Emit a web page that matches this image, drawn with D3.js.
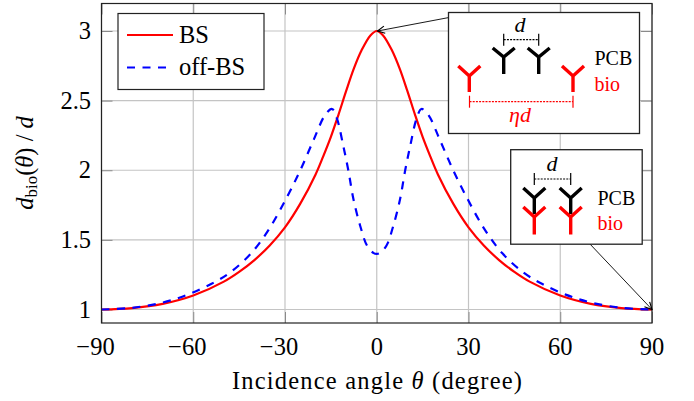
<!DOCTYPE html>
<html><head><meta charset="utf-8">
<script src="https://cdn.jsdelivr.net/npm/d3@7"></script>
<style>html,body{margin:0;padding:0;background:#fff}text{font-family:"Liberation Serif",serif;fill:#000}</style>
</head><body><svg id="c" width="694" height="401"></svg>
<script>
const xTicks=[-90,-60,-30,0,30,60,90];
const yTicks=[1,1.5,2,2.5,3];
const yTickLabels=["1","1.5","2","2.5","3"];
const bsTheta=[-90,-80,-70,-60,-50,-45,-40,-35,-30,-25,-20,-17.5,-15,-12.5,-10,-7.5,-5,-2,0,2,5,7.5,10,12.5,15,17.5,20,25,30,35,40,45,50,60,70,80,90];
const bsValue=[1,1.01,1.04,1.1,1.2,1.27,1.355,1.46,1.59,1.76,1.97,2.1,2.24,2.4,2.57,2.73,2.86,2.97,3,2.97,2.86,2.73,2.57,2.4,2.24,2.1,1.97,1.76,1.59,1.46,1.355,1.27,1.2,1.1,1.04,1.01,1];
const offTheta=[-90,-80,-70,-62,-54,-48,-41,-35,-29.3,-25,-20.6,-16.8,-14.6,-13,-10.9,-9.3,-7.6,-5.4,-3.2,-1,0,1,3.2,5.4,7.6,9.3,10.9,13,14.6,16.8,20.6,25,29.3,35,41,48,54,62,70,80,90];
const offValue=[1,1.012,1.05,1.105,1.185,1.265,1.405,1.585,1.81,2,2.22,2.4,2.44,2.37,2.17,2,1.79,1.6,1.46,1.405,1.4,1.405,1.46,1.6,1.79,2,2.17,2.37,2.44,2.4,2.22,2,1.81,1.585,1.405,1.265,1.185,1.105,1.05,1.012,1];
const legendLabels=["BS","off-BS"];

const L=101.5,R=652,T=3.5,B=323;
const x=d3.scaleLinear().domain([-90,90]).range([L,R]);
const y=d3.scaleLinear().domain([1,3]).range([309.5,31]);
const svg=d3.select("#c");
const font=24.5, tickLen=11;

const grid=svg.append("g").attr("stroke","#c4c4c4").attr("stroke-width",1.2);
xTicks.forEach(t=>grid.append("line").attr("x1",x(t)).attr("x2",x(t)).attr("y1",T).attr("y2",B));
yTicks.forEach(t=>grid.append("line").attr("y1",y(t)).attr("y2",y(t)).attr("x1",L).attr("x2",R));

function ticks(axis,tx){
  const g=svg.append("g").attr("transform",tx).call(axis);
  g.select(".domain").remove();
  g.selectAll("line").attr("stroke","#8a8a8a").attr("stroke-width",1);
  g.selectAll("text").remove();
}
ticks(d3.axisTop(x).tickValues(xTicks).tickSize(tickLen),`translate(0,${B})`);
ticks(d3.axisBottom(x).tickValues(xTicks).tickSize(tickLen),`translate(0,${T})`);
ticks(d3.axisRight(y).tickValues(yTicks).tickSize(tickLen),`translate(${L},0)`);
ticks(d3.axisLeft(y).tickValues(yTicks).tickSize(tickLen),`translate(${R},0)`);

const line=(xs,ys)=>d3.line().x((d,i)=>x(xs[i])).y((d,i)=>y(ys[i])).curve(d3.curveCatmullRom.alpha(0.5))(xs);
svg.append("path").attr("d",line(bsTheta,bsValue)).attr("fill","none").attr("stroke","#f00").attr("stroke-width",2.2);
svg.append("path").attr("d",line(offTheta,offValue)).attr("fill","none").attr("stroke","#00f").attr("stroke-width",2.2).attr("stroke-dasharray","8 7.5");

svg.append("rect").attr("x",L).attr("y",T).attr("width",R-L).attr("height",B-T).attr("fill","none").attr("stroke","#222").attr("stroke-width",1.2);

xTicks.forEach(t=>svg.append("text").attr("x",t<0?x(t)-6:x(t)).attr("y",355).attr("text-anchor","middle").attr("font-size",font).text(t<0?"\u2212"+(-t):t));
yTicks.forEach((t,i)=>svg.append("text").attr("x",91).attr("y",y(t)+8).attr("text-anchor","end").attr("font-size",font).text(yTickLabels[i]));

svg.append("text").attr("x",377).attr("y",389).attr("text-anchor","middle").attr("font-size",font).attr("textLength",290).attr("lengthAdjust","spacing")
  .html('Incidence angle <tspan font-style="italic">θ</tspan> (degree)');
const yl=svg.append("text").attr("transform","translate(33,163) rotate(-90)").attr("text-anchor","middle").attr("font-size",font);
yl.html('<tspan font-style="italic">d</tspan><tspan font-size="17" dy="4">bio</tspan><tspan dy="-4">(</tspan><tspan font-style="italic">θ</tspan><tspan>) / </tspan><tspan font-style="italic">d</tspan>');

svg.append("rect").attr("x",118).attr("y",13.5).attr("width",146).attr("height",76).attr("fill","#fff").attr("stroke","#222").attr("stroke-width",1.2);
svg.append("line").attr("x1",127).attr("x2",173).attr("y1",35).attr("y2",35).attr("stroke","#f00").attr("stroke-width",2.2);
svg.append("line").attr("x1",127).attr("x2",173).attr("y1",67.5).attr("y2",67.5).attr("stroke","#00f").attr("stroke-width",2.2).attr("stroke-dasharray","8 7.5");
legendLabels.forEach((s,i)=>svg.append("text").attr("x",179).attr("y",i?75:43).attr("font-size",font).text(s));

const defs=svg.append("defs");
defs.append("marker").attr("id","ah").attr("viewBox","0 0 10 10").attr("refX",9).attr("refY",5).attr("markerWidth",9).attr("markerHeight",9).attr("orient","auto").attr("markerUnits","userSpaceOnUse")
  .append("path").attr("d","M1,1 L9,5 L1,9").attr("fill","none").attr("stroke","#000").attr("stroke-width",1.3);
function arrow(a,b,c,d){svg.append("line").attr("x1",a).attr("y1",b).attr("x2",c).attr("y2",d).attr("stroke","#000").attr("stroke-width",.9).attr("marker-end","url(#ah)");}
arrow(449,17.5,377.5,31);
arrow(589,243,652,309.5);

function box(a,b,w,h){svg.append("rect").attr("x",a).attr("y",b).attr("width",w).attr("height",h).attr("fill","#fff").attr("stroke","#222").attr("stroke-width",1.3);}
function ant(cx,top,joint,end,col){
  svg.append("path").attr("d",`M${cx-11},${top} L${cx},${joint} L${cx+11},${top} M${cx},${joint} L${cx},${end}`).attr("fill","none").attr("stroke",col).attr("stroke-width",3.4);
}
function bracket(a,b,yy,col){
  const g=svg.append("g").attr("stroke",col).attr("stroke-width",1.2);
  g.append("line").attr("x1",a).attr("x2",b).attr("y1",yy).attr("y2",yy).attr("stroke-dasharray","2 1.2");
  [a,b].forEach(v=>g.append("line").attr("x1",v).attr("x2",v).attr("y1",yy-6).attr("y2",yy+6));
}
function lab(a,b,s,col,fs,anchor,it){svg.append("text").attr("x",a).attr("y",b).attr("font-size",fs).attr("text-anchor",anchor||"start").attr("font-style",it?"italic":"normal").style("fill",col).text(s);}

box(448.5,12.5,191,121);
ant(503.7,48,57,74,"#000");ant(538.7,48,57,74,"#000");
ant(469.3,66,76,92,"#f00");ant(573,66,76,92,"#f00");
bracket(503.7,538.7,39.7,"#000");
bracket(469.5,573,101.7,"#f00");
lab(520,32,"d","#000",22,"middle",true);
lab(520,121.5,"ηd","#f00",22,"middle",true);
lab(594.5,65,"PCB","#000",20);
lab(594.5,91,"bio","#f00",20);

box(510.7,149.7,131.5,94.5);
ant(534.3,188,198,214,"#000");ant(570.7,188,198,214,"#000");
ant(534.3,207,217,234.5,"#f00");ant(570.7,207,217,234.5,"#f00");
bracket(534.3,570.7,179,"#000");
lab(552,171,"d","#000",22,"middle",true);
lab(597.5,205,"PCB","#000",20);
lab(597.5,229.5,"bio","#f00",20);
</script></body></html>
